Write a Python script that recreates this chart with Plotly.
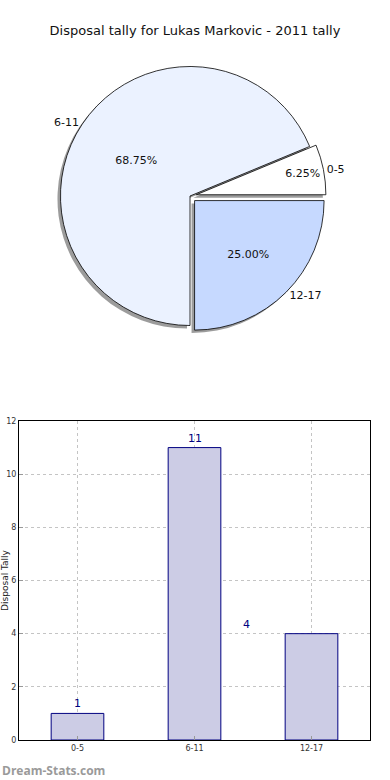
import plotly.graph_objects as go

# ---- data ----
categories = ["0-5", "6-11", "12-17"]
disposals = [1, 11, 4]
pie_colors = ["#FFFFFF", "#EBF2FF", "#C6D9FF"]
title_text = "Disposal tally for Lukas Markovic - 2011 tally"
y_title = "Disposal Tally"
y_ticks = [0, 2, 4, 6, 8, 10, 12]

W, H = 390, 780
FONT = "DejaVu Sans, Liberation Sans, sans-serif"

# pie placement (paper coords)
cy, half = 196, 136
pie_dom_y = [1 - (cy + half) / H, 1 - (cy - half) / H]
pie_dom_x = [3 / W, 377 / W]
pull = [0.05, 0.0, 0.05]
# first slice starts at 3 o'clock and runs counterclockwise (plotly anchors the end of the first slice)
rot = 90 - 360 * disposals[0] / sum(disposals)

fig = go.Figure()

common = dict(labels=categories, values=disposals, sort=False, direction="counterclockwise",
              rotation=rot, pull=pull, showlegend=False)

# shadow
sx, sy = 3 / W, 3 / H
fig.add_trace(go.Pie(
    **common, textinfo="none", hoverinfo="skip",
    marker=dict(colors=["rgba(90,90,90,0.6)"] * 3, line=dict(width=0)),
    domain=dict(x=[pie_dom_x[0] - sx, pie_dom_x[1] - sx], y=[pie_dom_y[0] - sy, pie_dom_y[1] - sy]),
))

# main pie with percentages
fig.add_trace(go.Pie(
    **common,
    texttemplate="%{percent:.2%}", textposition="inside", insidetextorientation="horizontal",
    textfont=dict(family=FONT, size=11, color="#111111"),
    marker=dict(colors=pie_colors, line=dict(color="#000000", width=0.8)),
    domain=dict(x=pie_dom_x, y=pie_dom_y),
))

# outside labels
fig.add_trace(go.Pie(
    **common, hoverinfo="skip",
    textinfo="label", textposition="outside",
    textfont=dict(family=FONT, size=11, color="#111111"),
    marker=dict(colors=["rgba(0,0,0,0)"] * 3, line=dict(width=0)),
    domain=dict(x=pie_dom_x, y=pie_dom_y),
))

# bar chart
fig.add_trace(go.Bar(
    x=categories, y=disposals, width=0.45, xaxis="x", yaxis="y", showlegend=False,
    marker=dict(color="#CCCCE5", line=dict(color="#000080", width=1)),
))

label_xshift = [0, 0, -65]
for c, v, dx in zip(categories, disposals, label_xshift):
    fig.add_annotation(x=c, y=v, xref="x", yref="y", text=str(v), showarrow=False,
                       yanchor="bottom", yshift=1, xshift=dx,
                       font=dict(family=FONT, size=11, color="#000080"))

fig.add_annotation(x=0, y=10 / H, xref="paper", yref="paper", xanchor="left", yanchor="middle",
                   text="<b>Dream-Stats.com</b>", showarrow=False,
                   font=dict(family="Open Sans, DejaVu Sans, sans-serif", size=12, color="#9A9A9A"))

fig.update_layout(
    width=W, height=H, margin=dict(l=0, r=0, t=0, b=0, autoexpand=False),
    paper_bgcolor="white", plot_bgcolor="white",
    title=dict(text=title_text, x=0.5, xanchor="center", y=1 - 30 / H, yanchor="middle",
               font=dict(family=FONT, size=13, color="#111111")),
    xaxis=dict(domain=[19 / W, 370 / W], anchor="y", type="category", range=[-0.5, 2.5],
               automargin=False,
               showline=True, linecolor="#000000", linewidth=1, mirror=True,
               showgrid=True, gridcolor="#C4C4C4", griddash="dot", gridwidth=1,
               ticks="inside", ticklen=4, tickcolor="#999999",
               tickfont=dict(family=FONT, size=8, color="#333333")),
    yaxis=dict(domain=[1 - 740 / H, 1 - 421 / H], anchor="x", range=[0, 12],
               automargin=False,
               tickvals=y_ticks, showline=True, linecolor="#000000", linewidth=1, mirror=True,
               showgrid=True, gridcolor="#C4C4C4", griddash="dot", gridwidth=1,
               zeroline=False, ticks="inside", ticklen=4, tickcolor="#999999",
               tickfont=dict(family=FONT, size=8, color="#333333"),
               title=dict(text=y_title, standoff=4, font=dict(family=FONT, size=9, color="#222222"))),
)

fig.write_html("out.html", config={"displayModeBar": False},
               post_script="document.body.style.margin='0';document.body.style.overflow='hidden';")
